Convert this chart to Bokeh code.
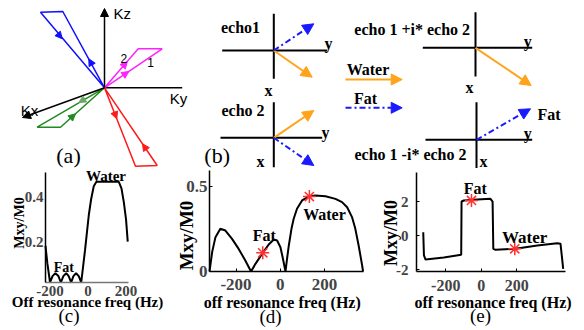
from math import pi
from bokeh.plotting import figure
from bokeh.models import Range1d, Arrow, NormalHead, Label, FixedTicker
from bokeh.layouts import column, row
from bokeh.embed import file_html
from bokeh.resources import INLINE

# ---------------- data: panel (c) ----------------
c_freq = [-224, -214, -200, -187, -172, -156, -143, -130, -115, -102, -89, -77, -63, -49, -36,
          -16, 4, 16, 30, 44, 162, 176, 188, 200, 209]
c_mxy = [0.18, 0.10, 0.015, 0.044, 0.057, 0.044, 0.015, 0.044, 0.057, 0.044, 0.015, 0.044, 0.057,
         0.044, 0.015, 0.16, 0.32, 0.39, 0.45, 0.47, 0.47, 0.44, 0.38, 0.30, 0.20]
c_xticks = [-200, 0, 200]
c_yticks = [0.2, 0.4]

# ---------------- data: panel (d) ----------------
d_freq = [-320, -308, -293, -271, -248, -218, -188, -158, -132, -112, -79, -52, -29, -14, 1, 11, 24,
          31, 39, 51, 61, 76, 99, 129, 159, 205, 250, 280, 303, 325, 340, 355, 371, 375]
d_mxy = [0, 0.114, 0.202, 0.251, 0.241, 0.192, 0.133, 0.065, 0, 0.045, 0.11, 0.159, 0.188, 0.182,
         0.143, 0.084, 0, 0.075, 0.153, 0.251, 0.31, 0.369, 0.418, 0.441, 0.447, 0.443, 0.427, 0.408,
         0.378, 0.32, 0.251, 0.153, 0.035, 0]
d_star_freq = [-79, 132]
d_star_mxy = [0.11, 0.441]
d_xticks = [-200, 0, 200]
d_yticks = [0, 0.5]

# ---------------- data: panel (e) ----------------
e_freq = [-327, -323, -314, -211, -113, -111, -98, -23, 52, 64, 68, 81, 193, 316, 428, 447, 462]
e_mxy = [0.21, -1.15, -1.39, -1.27, -1.11, 2.01, 2.07, 2.13, 2.17, 2.01, -0.76, -0.82, -0.76, -0.57,
         -0.43, -0.47, -1.93]
e_star_freq = [-55, 189]
e_star_mxy = [2.07, -0.76]
e_xticks = [-200, 0, 200]
e_yticks = [-2, 0, 2]

# ---------------- diagram data: panel (a) (k-space trajectories) ----------------
a_origin = (104, 87.3)
a_kz_tip = (104, 8)
a_ky_tip = (181.7, 87.3)
a_kx_tip = (22, 117)
a_loops = {  # colour: two far corners of each loop
    "#1010ff": [(62.3, 11), (40, 11.7)],
    "#ff22ff": [(161.7, 48.3), (137.7, 48.3)],
    "#1f8a1f": [(60, 126.7), (36.7, 126.7)],
    "#ff1a1a": [(156.7, 165), (135, 165.7)],
}
a_marks = [  # x, y, dx, dy, colour
    (61.7, 38.3, 64, 75.6, "#1010ff"),
    (88.3, 58.3, -41.7, -76.3, "#1010ff"),
    (126.8, 61, 33.7, -39, "#ff22ff"),
    (128.3, 71, 57.7, -39, "#ff22ff"),
    (78.3, 102, -67.3, 39.4, "#6aa86a"),
    (75, 113.3, 44, -39.4, "#1f8a1f"),
    (116.3, 118.3, 31, 78.4, "#ff1a1a"),
    (142, 143.3, -52.7, -77.7, "#ff1a1a"),
]

# ---------------- diagram data: panel (b) (phasors) ----------------
b_axes = [  # centre x, centre y, x-left, x-right, y-top, y-bottom
    (273.3, 50, 221.7, 326.7, 13.3, 78.3),
    (273.3, 137.3, 220, 321.7, 101.7, 166.7),
    (475, 47.3, 422.3, 531.7, 11.7, 76),
    (476, 139.3, 425, 531.7, 101.7, 168.3),
]
b_water = [((273.3, 50), (311.7, 76.7)), ((273.3, 137.3), (313.3, 110)),
           ((345, 79), (401.7, 79)), ((475, 47.3), (530.7, 85))]
b_fat = [((273.3, 50), (313.3, 23.3)), ((273.3, 137.3), (313.3, 165)),
         ((345, 107.3), (401.7, 107.3)), ((476, 139.3), (530, 108.3))]

ORANGE = "#ffa31a"
BLUE = "#1a1aff"
SERIF = "Liberation Serif"
SANS = "Liberation Sans"
W, H, TOP_H = 584, 330, 168

# ================= top figure: (a) and (b) =================
top = figure(width=W, height=TOP_H, x_range=Range1d(0, W), y_range=Range1d(TOP_H, 0),
             x_axis_type=None, y_axis_type=None, toolbar_location=None,
             output_backend="svg", min_border=0)
top.outline_line_color = None

ox, oy = a_origin
top.line([ox, a_ky_tip[0]], [oy, a_ky_tip[1]], line_color="black", line_width=1.5)
for tip in (a_kz_tip, a_kx_tip):
    top.add_layout(Arrow(end=NormalHead(size=8, fill_color="black", line_color="black"),
                         x_start=ox, y_start=oy, x_end=tip[0], y_end=tip[1],
                         line_color="black", line_width=1.5))
for col, (p1, p2) in a_loops.items():
    top.line([ox, p1[0], p2[0], ox], [oy, p1[1], p2[1], oy], line_color=col, line_width=1.5)
for (x, y, dx, dy, col) in a_marks:
    top.add_layout(Arrow(end=NormalHead(size=7, fill_color=col, line_color=col, line_width=1),
                         x_start=x - 0.05 * dx, y_start=y - 0.05 * dy, x_end=x, y_end=y,
                         line_alpha=0))


def tlabel(p, x, y, text, size, font=SERIF, style="bold", angle=0.0, color="black"):
    p.add_layout(Label(x=x, y=y, text=text, text_font=font, text_font_size=f"{size}px",
                       text_font_style=style, text_align="center", text_baseline="middle",
                       angle=angle, text_color=color))


tlabel(top, 121.7, 13, "Kz", 15, SANS, "normal")
tlabel(top, 178, 97.5, "Ky", 15, SANS, "normal")
tlabel(top, 29, 109.5, "Kx", 15, SANS, "normal")
tlabel(top, 123.3, 58.3, "2", 12, SANS, "normal")
tlabel(top, 150, 62, "1", 12, SANS, "normal")
tlabel(top, 68, 155, "(a)", 22, SERIF, "normal")

for (cx, cy, xl, xr, yt, yb) in b_axes:
    top.segment([xl, cx], [cy, yt], [xr, cx], [cy, yb], line_color="black", line_width=2)
for (s, e) in b_water:
    top.add_layout(Arrow(end=NormalHead(size=11, fill_color=ORANGE, line_color=ORANGE),
                         x_start=s[0], y_start=s[1], x_end=e[0], y_end=e[1],
                         line_color=ORANGE, line_width=2))
for (s, e) in b_fat:
    top.add_layout(Arrow(end=NormalHead(size=11, fill_color=BLUE, line_color=BLUE),
                         x_start=s[0], y_start=s[1], x_end=e[0], y_end=e[1],
                         line_color=BLUE, line_width=2, line_dash="6 3 2 3"))

tlabel(top, 240, 27, "echo1", 16)
tlabel(top, 242.5, 110, "echo 2", 16)
tlabel(top, 268, 90, "x", 16)
tlabel(top, 328, 43, "y", 16)
tlabel(top, 325, 131.7, "y", 16)
tlabel(top, 260, 160.5, "x", 16)
tlabel(top, 367.5, 69, "Water", 16)
tlabel(top, 365, 97.7, "Fat", 16)
tlabel(top, 411.7, 29.3, "echo 1 +i* echo 2", 16)
tlabel(top, 410, 154, "echo 1 -i* echo 2", 16)
tlabel(top, 469, 87.3, "x", 16)
tlabel(top, 527.3, 40.7, "y", 16)
tlabel(top, 527.3, 133.3, "y", 16)
tlabel(top, 483, 160.5, "x", 16)
tlabel(top, 548.5, 114.3, "Fat", 16)
tlabel(top, 216.7, 155, "(b)", 22, SERIF, "normal")


# ================= bottom panels =================
def panel(canvas_x, box, ext, xticks, yticks, xover, yover, xsize, ysize, xstand, ystand,
          tick_in, base_color):
    """canvas_x: page x-span of this canvas; box: page px of the axes (L, R, T, B);
    ext: data values at the axes (x_left, x_right, y_bottom, y_top)."""
    cl, cr = canvas_x
    ct, cb = TOP_H, H
    L, R, T, B = box
    xa0, xa1, ya0, ya1 = ext
    sx = (xa1 - xa0) / (R - L)
    sy = (ya1 - ya0) / (B - T)
    xr = (xa0 - (L - cl) * sx, xa1 + (cr - R) * sx)
    yr = (ya0 - (cb - B) * sy, ya1 + (T - ct) * sy)
    p = figure(width=cr - cl, height=cb - ct, x_range=Range1d(*xr), y_range=Range1d(*yr),
               min_border=0, toolbar_location=None, output_backend="svg")
    p.outline_line_color = None
    p.grid.visible = False
    p.xaxis.fixed_location = ya0
    p.xaxis.bounds = (xa0, xa1)
    p.yaxis.fixed_location = xa0
    p.yaxis.bounds = (ya0, ya1)
    for ax, ticks, over, st, sz in ((p.xaxis, xticks, xover, xstand, xsize),
                                    (p.yaxis, yticks, yover, ystand, ysize)):
        ax.ticker = FixedTicker(ticks=ticks)
        ax.major_label_overrides = over
        ax.major_label_text_font = SERIF
        ax.major_label_text_font_style = "bold"
        ax.major_label_text_font_size = f"{sz}px"
        ax.major_label_standoff = st
        ax.minor_tick_line_color = None
        ax.major_tick_in = tick_in
        ax.major_tick_out = 0
        ax.major_tick_line_color = "black" if tick_in else None
        ax.axis_line_width = 1.5
    p.yaxis.axis_line_color = "black"
    p.xaxis.axis_line_color = base_color

    def at(X, Y):
        return xa0 + (X - L) * sx, ya1 - (Y - T) * sy
    return p, at


# (c)
pc, atc = panel((0, 170), (45, 128, 172, 282), (-224, 213, 0.015, 0.512), c_xticks, c_yticks,
                {-200: "-200", 0: "0", 200: "200"}, {0.2: "0.2", 0.4: "0.4"}, 15, 15, 3, 2, 0,
                "#777777")
pc.line(c_freq, c_mxy, line_color="black", line_width=2)
for (X, Y, t, s, st, ang) in [(19, 222.5, "Mxy/M0", 14, "bold", pi / 2),
                               (87, 301.5, "Off resonance freq (Hz)", 15, "bold", 0),
                               (68.5, 315, "(c)", 19, "normal", 0),
                               (105.5, 175, "Water", 15, "bold", 0),
                               (63.3, 267.3, "Fat", 14, "bold", 0)]:
    x, y = atc(X, Y)
    tlabel(pc, x, y, t, s, SERIF, st, ang)

# (d)
pd_, atd = panel((170, 372), (209, 363, 170, 271), (-320, 377, 0, 0.594), d_xticks, d_yticks,
                 {-200: "-200", 0: "0", 200: "200"}, {0: "0", 0.5: "0.5"}, 17, 17, 7, 2, 3, "black")
pd_.line(d_freq, d_mxy, line_color="black", line_width=2)
pd_.scatter(d_star_freq, d_star_mxy, marker="asterisk", size=13, line_color="#ff3030", line_width=1.5)
for (X, Y, t, s, st, ang) in [(186, 235, "Mxy/M0", 19, "bold", pi / 2),
                               (281.7, 302, "off resonance freq (Hz)", 16, "bold", 0),
                               (270, 316, "(d)", 19, "normal", 0),
                               (324, 214.3, "Water", 16, "bold", 0),
                               (263.7, 235, "Fat", 16, "bold", 0)]:
    x, y = atd(X, Y)
    tlabel(pd_, x, y, t, s, SERIF, st, ang)

# (e)
pe, ate = panel((372, 584), (416, 565, 172, 271), (-365, 475, -2.09, 3.71), e_xticks, e_yticks,
                {-200: "-200", 0: "0", 200: "200"}, {-2: "-2", 0: "0", 2: "2"}, 16, 15, 8, 8, 3,
                "black")
pe.line(e_freq, e_mxy, line_color="black", line_width=2)
pe.scatter(e_star_freq, e_star_mxy, marker="asterisk", size=13, line_color="#ff3030", line_width=1.5)
for (X, Y, t, s, st, ang) in [(390, 232.5, "Mxy/M0", 18, "bold", pi / 2),
                               (492.5, 301.7, "off resonance freq (Hz)", 16, "bold", 0),
                               (480, 315, "(e)", 19, "normal", 0),
                               (524.2, 236.7, "Water", 17, "bold", 0),
                               (474.7, 188.3, "Fat", 16, "bold", 0)]:
    x, y = ate(X, Y)
    tlabel(pe, x, y, t, s, SERIF, st, ang)

layout = column(top, row(pc, pd_, pe, spacing=0), spacing=0)
open("out.html", "w").write(file_html(layout, INLINE))
